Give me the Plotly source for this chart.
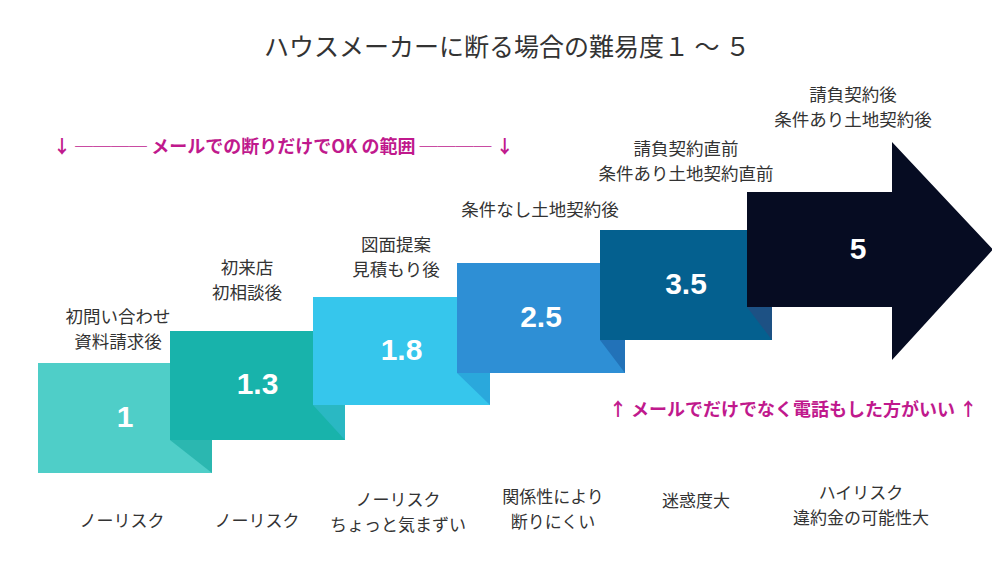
import plotly.graph_objects as go

# ---- data ----
levels = ["1", "1.3", "1.8", "2.5", "3.5", "5"]
stages = [
    "初問い合わせ<br>資料請求後",
    "初来店<br>初相談後",
    "図面提案<br>見積もり後",
    "条件なし土地契約後",
    "請負契約直前<br>条件あり土地契約直前",
    "請負契約後<br>条件あり土地契約後",
]
risks = [
    "ノーリスク",
    "ノーリスク",
    "ノーリスク<br>ちょっと気まずい",
    "関係性により<br>断りにくい",
    "迷惑度大",
    "ハイリスク<br>違約金の可能性大",
]
title_text = "ハウスメーカーに断る場合の難易度１ ～ ５"
note_top = "↓ ──── メールでの断りだけでOK の範囲 ──── ↓"
note_bottom = "↑ メールでだけでなく電話もした方がいい ↑"

# ---- style / layout (pixel-like coordinates) ----
box_colors = ["#4fcec8", "#18b3ab", "#36c6ec", "#2e8fd5", "#04608f", "#060c22"]
shadow_colors = ["#2bb7b0", "#2ab8c3", "#2aa8dc", "#2272b8", "#1d5184"]
lefts = [38, 170, 313, 457, 600, 747]
rights = [212, 345, 490, 625, 772]
tops = [363, 331, 297, 263, 230, 192]
bottoms = [473, 440, 405, 373, 340, 307]
head_x, tip_x, head_top, head_bot = 892, 993, 142, 360

LINE_GAP = 25
# centre of each text block
stage_x = [118, 247, 396, 540, 686, 853]
stage_yc = [331, 282, 259, 212, 163, 109]
risk_x = [122, 257, 398, 553, 696, 861]
risk_yc = [523, 523, 514, 511, 503, 507]

TXT = "#333333"
MAG = "#c0198d"
JP = "Noto Sans CJK JP"
OFF = 8  # page body margin in the browser

fig = go.Figure()
shapes = []
n = len(levels)
for i in range(n - 1):
    shapes.append(dict(type="rect", x0=lefts[i], x1=rights[i], y0=tops[i], y1=bottoms[i],
                       fillcolor=box_colors[i], line=dict(width=0), layer="below"))
    path = f"M {lefts[i+1]},{bottoms[i+1]} L {rights[i]},{bottoms[i+1]} L {rights[i]},{bottoms[i]} Z"
    shapes.append(dict(type="path", path=path, fillcolor=shadow_colors[i],
                       line=dict(width=0), layer="below"))
i = n - 1
arrow = (f"M {lefts[i]},{tops[i]} L {head_x},{tops[i]} L {head_x},{head_top} "
         f"L {tip_x},{(tops[i]+bottoms[i])/2} L {head_x},{head_bot} L {head_x},{bottoms[i]} "
         f"L {lefts[i]},{bottoms[i]} Z")
shapes.append(dict(type="path", path=arrow, fillcolor=box_colors[i], line=dict(width=0), layer="below"))

# number label positions: centre of each box
cx = [(lefts[k] + rights[k]) / 2 for k in range(n - 1)] + [lefts[n - 1] + 111]
cy = [(tops[k] + bottoms[k]) / 2 + 1 for k in range(n - 1)] + [(tops[n - 1] + bottoms[n - 1]) / 2 + 2]

fig.add_trace(go.Scatter(
    x=cx, y=cy, mode="text", text=levels,
    textfont=dict(family="Liberation Sans", size=30, color="white", weight="bold"),
    hoverinfo="skip", showlegend=False))


def split_lines(labels, xs, ycs):
    lx, ly, lt = [], [], []
    for lab, x, yc in zip(labels, xs, ycs):
        lines = lab.split("<br>")
        y0 = yc - (len(lines) - 1) * LINE_GAP / 2
        for j, line in enumerate(lines):
            lx.append(x)
            ly.append(y0 + j * LINE_GAP)
            lt.append(line)
    return lx, ly, lt


sx, sy, st = split_lines(stages, stage_x, stage_yc)
fig.add_trace(go.Scatter(
    x=sx, y=sy, mode="text", text=st,
    textfont=dict(family=JP, size=17.5, color=TXT),
    hoverinfo="skip", showlegend=False))

rx, ry, rt = split_lines(risks, risk_x, risk_yc)
fig.add_trace(go.Scatter(
    x=rx, y=ry, mode="text", text=rt,
    textfont=dict(family=JP, size=17, color=TXT),
    hoverinfo="skip", showlegend=False))

annotations = [
    dict(x=507, y=45, text=title_text, showarrow=False,
         font=dict(family=JP, size=25, color=TXT)),
    dict(x=283, y=145, text=note_top, showarrow=False,
         font=dict(family=JP, size=18, color=MAG, weight="bold")),
    dict(x=793, y=408, text=note_bottom, showarrow=False,
         font=dict(family=JP, size=18, color=MAG, weight="bold")),
]

fig.update_layout(
    width=1000, height=563,
    margin=dict(l=0, r=0, t=0, b=0),
    paper_bgcolor="white", plot_bgcolor="white",
    xaxis=dict(range=[OFF, 1000 + OFF], visible=False, fixedrange=True),
    yaxis=dict(range=[563 + OFF, OFF], visible=False, fixedrange=True),
    shapes=shapes, annotations=annotations,
    showlegend=False,
)
fig.write_html("out.html")
